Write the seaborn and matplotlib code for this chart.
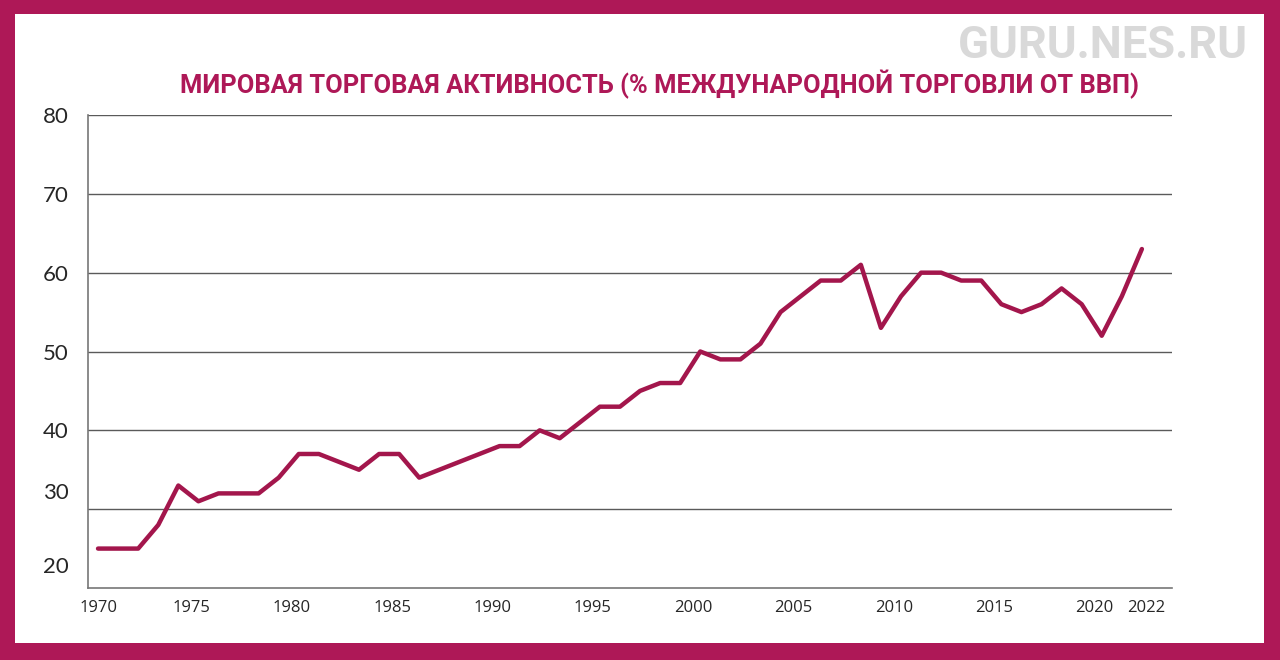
import numpy as np
import pandas as pd
import matplotlib.pyplot as plt
import matplotlib.transforms as mtransforms
import seaborn as sns
from matplotlib.patches import Rectangle
from matplotlib.ticker import FixedLocator

# Data
years = list(range(1970, 2023))
trade_share = [25, 25, 25, 28, 33, 31, 32, 32, 32, 34,
               37, 37, 36, 35, 37, 37, 34, 35, 36, 37,
               38, 38, 40, 39, 41, 43, 43, 45, 46, 46,
               50, 49, 49, 51, 55, 57, 59, 59, 61, 53,
               57, 60, 60, 59, 59, 56, 55, 56, 58, 56,
               52, 57, 63]
x_label_years = [1970, 1975, 1980, 1985, 1990, 1995, 2000, 2005, 2010, 2015, 2020, 2022]
y_ticks = [20, 30, 40, 50, 60, 70, 80]

title = "МИРОВАЯ ТОРГОВАЯ АКТИВНОСТЬ (% МЕЖДУНАРОДНОЙ ТОРГОВЛИ ОТ ВВП)"
watermark = "GURU.NES.RU"

df = pd.DataFrame({"year": years, "share": trade_share})

MAGENTA = "#AE1857"
LINE = "#A3164C"

sns.set_style("white")
plt.rcParams['font.family'] = ['Roboto', 'DejaVu Sans']

fig = plt.figure(figsize=(12.8, 6.6), dpi=100)
fig.patch.set_facecolor(MAGENTA)
fig.add_artist(Rectangle((15 / 1280, 17 / 660), 1249 / 1280, 629 / 660,
                         transform=fig.transFigure, facecolor="white",
                         edgecolor="none", zorder=-1))

ax = fig.add_axes([88 / 1280, 1 - 588 / 660, (1172 - 88) / 1280, (588 - 115) / 660])
sns.lineplot(data=df, x="year", y="share", ax=ax, color=LINE, linewidth=3.2)

ax.set_xlim(1969.5, 2023.5)
ax.set_ylim(20, 80)

# y axis
ax.set_yticks(y_ticks)
ax.set_yticklabels([str(v) for v in y_ticks], fontsize=16, family=['Lato', 'DejaVu Sans'])
ax.tick_params(axis="y", length=0, pad=14)
for v in y_ticks[1:]:
    ax.axhline(v, color="#5a5a5a", linewidth=1.0, zorder=0)
# the two lowest labels sit a bit above their lines in the original
for lab in ax.get_yticklabels():
    shift = {"30": 18, "20": 23}.get(lab.get_text(), 0)
    if shift:
        lab.set_transform(lab.get_transform() +
                          mtransforms.ScaledTranslation(0, shift / 100, fig.dpi_scale_trans))

# x axis: minor ticks on year boundaries, labels at selected years
ax.xaxis.set_minor_locator(FixedLocator(np.arange(1969.5, 2023, 1.0)))
ax.set_xticks(x_label_years)
ax.set_xticklabels([str(y) for y in x_label_years], fontsize=12, family=['Open Sans', 'DejaVu Sans'])
ax.tick_params(axis="x", which="major", length=0, pad=9)
ax.tick_params(axis="x", which="minor", direction="in", length=8, width=1, color="#777777")
for lab in ax.get_xticklabels():
    t = lab.get_text()
    dx = 0 if t == "1970" else (4 if t == "2022" else -7)
    if dx:
        lab.set_transform(lab.get_transform() +
                          mtransforms.ScaledTranslation(dx / 100, 0, fig.dpi_scale_trans))

ax.set_xlabel("")
ax.set_ylabel("")
for side in ["top", "right"]:
    ax.spines[side].set_visible(False)
for side in ["left", "bottom"]:
    ax.spines[side].set_color("#777777")
    ax.spines[side].set_linewidth(1.2)

fig.text(660 / 1280, 1 - 84 / 660, title, ha="center", va="center",
         fontsize=18.4, color=MAGENTA, fontweight="bold")
fig.text(1248 / 1280, 1 - 46 / 660, watermark, ha="right", va="center",
         fontsize=32.7, color="#D9D9D9", fontweight="bold")

fig.savefig("out.png", dpi=100, facecolor=fig.get_facecolor())
